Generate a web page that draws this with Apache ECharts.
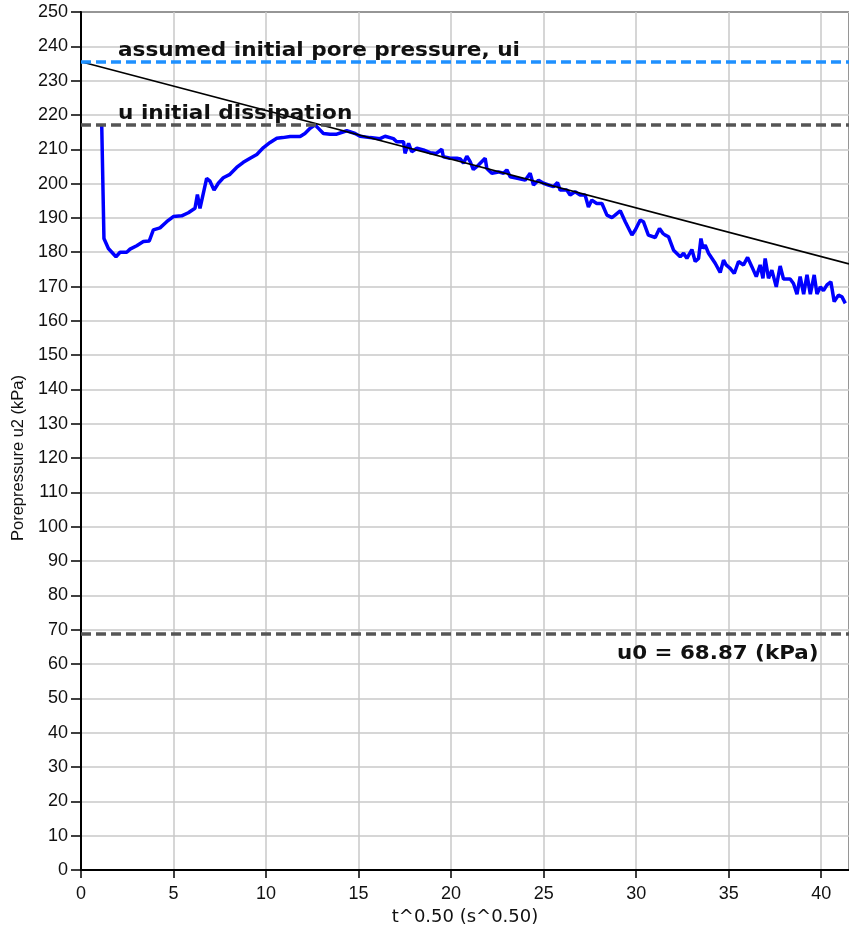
<!DOCTYPE html>
<html><head><meta charset="utf-8">
<script src="https://cdn.jsdelivr.net/npm/echarts@6/dist/echarts.min.js"></script>
<style>html,body{margin:0;padding:0;background:#fff}#c{width:849px;height:932px}</style>
</head><body><div id="c"></div>
<script>
const tValues = [1.12,1.24,1.48,1.89,2.11,2.47,2.65,3.01,3.37,3.69,3.91,4.27,4.63,4.99,5.44,5.80,6.16,6.29,6.43,6.79,6.97,7.19,7.42,7.69,8.05,8.41,8.77,9.14,9.50,9.86,10.22,10.58,10.9,11.3,11.84,12.1,12.38,12.65,12.83,13.1,13.46,13.82,14.36,14.81,15.08,15.62,16.16,16.43,16.88,17.06,17.43,17.51,17.7,17.87,18.15,18.5,18.86,19.2,19.5,19.58,19.95,20.31,20.5,20.67,20.85,21.03,21.2,21.48,21.84,21.93,22.2,22.56,22.83,23.01,23.19,23.64,24.0,24.27,24.45,24.72,24.99,25.26,25.53,25.75,25.89,26.25,26.43,26.7,26.97,27.24,27.42,27.6,27.87,28.15,28.42,28.69,28.86,29.14,29.41,29.77,29.95,30.22,30.39,30.66,31.03,31.26,31.44,31.57,31.75,32.02,32.38,32.56,32.74,33.01,33.19,33.37,33.5,33.61,33.73,33.91,34.27,34.54,34.72,34.86,35.08,35.3,35.53,35.8,36.02,36.25,36.49,36.7,36.85,36.97,37.15,37.33,37.57,37.78,37.96,38.32,38.5,38.69,38.86,39.05,39.23,39.41,39.62,39.77,39.95,40.12,40.31,40.52,40.7,40.93,41.12,41.3];
const u2Values = [217.1,184.0,181.1,178.7,180.0,180.0,180.9,181.9,183.1,183.3,186.5,187.1,188.9,190.4,190.6,191.5,192.8,196.8,192.8,201.5,200.7,198.1,200.1,201.7,202.7,204.7,206.2,207.4,208.5,210.5,212.0,213.2,213.4,213.7,213.7,214.6,216.1,217.1,216.1,214.6,214.4,214.4,215.4,214.6,213.8,213.4,213.1,213.8,213.1,212.2,212.2,208.8,211.7,209.3,210.3,209.8,209.0,208.8,210.0,207.8,207.4,207.4,207.2,205.9,208.0,206.4,204.1,205.4,207.4,204.4,203.0,203.4,203.0,204.0,202.0,201.5,201.0,203.0,199.6,201.0,200.1,199.6,199.1,200.3,198.1,198.1,196.7,197.6,196.7,196.7,193.2,195.2,194.2,194.2,190.8,190.1,190.8,192.1,188.9,185.0,186.5,189.4,188.9,185.0,184.3,186.9,185.5,185.0,184.5,180.6,178.7,179.7,178.2,180.8,177.3,178.2,184.0,181.1,182.1,179.7,176.8,174.1,177.7,176.3,175.3,173.8,177.3,176.3,178.5,175.8,172.9,176.3,172.4,178.2,172.4,174.8,169.9,176.0,172.2,172.2,170.9,167.8,172.9,167.8,173.4,167.8,173.4,167.8,169.9,168.8,170.5,171.4,165.6,167.5,167.0,165.1];
const trendX = [0, 41.5];
const trendY = [235.5, 176.6];
const uiLevel = 235.5;
const uInitialLevel = 217.1;
const u0Level = 68.87;
const uiLabel = 'assumed initial pore pressure, ui';
const uInitialLabel = 'u initial dissipation';
const u0Label = 'u0 = 68.87 (kPa)';
const xName = 't^0.50 (s^0.50)';
const yName = 'Porepressure u2 (kPa)';

const chart = echarts.init(document.getElementById('c'), null, {renderer: 'canvas'});
const tickFont = {fontFamily: 'Liberation Sans', fontSize: 18, color: '#111'};

chart.setOption({
  animation: false,
  backgroundColor: '#fff',
  grid: {left: 81, top: 12, right: 0, bottom: 62, show: true, borderColor: '#000', borderWidth: 2},
  xAxis: {
    type: 'value', min: 0, max: 41.5, interval: 5,
    name: xName, nameLocation: 'middle', nameGap: 37,
    nameTextStyle: {fontFamily: 'DejaVu Sans', fontSize: 18, color: '#111'},
    axisLine: {show: true, onZero: false, lineStyle: {color: '#000', width: 2}},
    axisTick: {show: true, length: 8, lineStyle: {color: '#000', width: 1.5}},
    axisLabel: Object.assign({margin: 15, showMaxLabel: false}, tickFont),
    splitLine: {show: true, lineStyle: {color: '#c8c8c8', width: 1.5}}
  },
  yAxis: {
    type: 'value', min: 0, max: 250, interval: 10,
    name: yName, nameLocation: 'middle', nameGap: 51, nameRotate: 90,
    nameTextStyle: {fontFamily: 'Liberation Sans', fontSize: 16.5, color: '#111', padding: [0, 34, 0, 0]},
    axisLine: {show: true, onZero: false, lineStyle: {color: '#000', width: 2}},
    axisTick: {show: true, length: 10, lineStyle: {color: '#000', width: 1.5}},
    axisLabel: Object.assign({margin: 13}, tickFont),
    splitLine: {show: true, lineStyle: {color: '#c8c8c8', width: 1.5}}
  },
  series: [
    {
      type: 'line', name: 'u2', showSymbol: false, symbol: 'none',
      data: tValues.map((t, i) => [t, u2Values[i]]),
      lineStyle: {color: '#0000ff', width: 3.5}, z: 3
    },
    {
      type: 'line', name: 'trend', showSymbol: false, symbol: 'none',
      data: trendX.map((t, i) => [t, trendY[i]]),
      lineStyle: {color: '#000', width: 1.6}, z: 4,
      markLine: {
        silent: true, symbol: 'none', animation: false, label: {show: false},
        data: [
          {yAxis: uiLevel, lineStyle: {color: '#1e90ff', width: 3.5, type: [10, 5]}},
          {yAxis: uInitialLevel, lineStyle: {color: '#555', width: 3.5, type: [10, 5]}},
          {yAxis: u0Level, lineStyle: {color: '#555', width: 3.5, type: [10, 5]}}
        ]
      }
    }
  ]
});

// level labels, anchored to the level lines through the axis scale
const labelFont = 'bold 20px "DejaVu Sans"';
const xEnd = chart.convertToPixel({gridIndex: 0}, [39.85, 0])[0];
const yUi = chart.convertToPixel({gridIndex: 0}, [0, uiLevel])[1];
const yUin = chart.convertToPixel({gridIndex: 0}, [0, uInitialLevel])[1];
const yU0 = chart.convertToPixel({gridIndex: 0}, [0, u0Level])[1];
const x0 = chart.convertToPixel({gridIndex: 0}, [2, 0])[0];
chart.setOption({
  graphic: [
    {type: 'text', x: x0, y: yUi - 1, scaleX: 1.08, z: 10,
     style: {text: uiLabel, font: labelFont, fill: '#111', align: 'left', verticalAlign: 'bottom'}},
    {type: 'text', x: x0, y: yUin - 1, scaleX: 1.08, z: 10,
     style: {text: uInitialLabel, font: labelFont, fill: '#111', align: 'left', verticalAlign: 'bottom'}},
    {type: 'text', x: xEnd, y: yU0 + 10, scaleX: 1.07, z: 10,
     style: {text: u0Label, font: labelFont, fill: '#111', align: 'right', verticalAlign: 'top'}}
  ]
});
</script></body></html>
